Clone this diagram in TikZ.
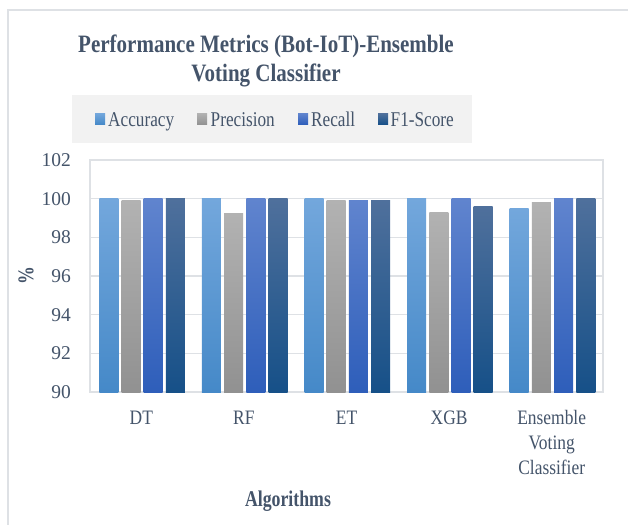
\documentclass[tikz,border=0pt]{standalone}
\usepackage{fontspec}
\setmainfont{Liberation Serif}
\newfontfamily\condfont{Liberation Serif}[FakeStretch=0.85]
\newfontfamily\legfont{Liberation Serif}[FakeStretch=0.82]
\newfontfamily\titlefont{Liberation Serif}[FakeStretch=0.84]
\newfontfamily\axisfont{Liberation Serif}[FakeStretch=0.79]

\definecolor{txt}{HTML}{44546A}
\definecolor{gridc}{HTML}{DEE1E5}
\definecolor{legbg}{HTML}{F2F2F2}
\definecolor{accT}{HTML}{73A7DC}
\definecolor{accB}{HTML}{4589C8}
\definecolor{preT}{HTML}{B2B2B2}
\definecolor{preB}{HTML}{919191}
\definecolor{recT}{HTML}{6084CE}
\definecolor{recB}{HTML}{2E5EBA}
\definecolor{fT}{HTML}{4F709C}
\definecolor{fB}{HTML}{165088}

\tikzset{
  titletext/.style={text=txt, inner sep=0pt, anchor=base,
    font=\titlefont\bfseries\fontsize{25}{29}\selectfont},
  legtext/.style={text=txt, inner sep=0pt, anchor=base west,
    font=\legfont\fontsize{21}{24}\selectfont},
  legkey/.style={inner sep=0pt, minimum width=10pt, minimum height=11pt},
  ticktext/.style={text=txt, inner sep=0pt, anchor=east,
    font=\fontsize{19.5}{22}\selectfont},
  cattext/.style={text=txt, inner sep=0pt, align=center,
    font=\condfont\fontsize{20.5}{25}\selectfont},
  axistitle/.style={text=txt, inner sep=0pt,
    font=\axisfont\bfseries\fontsize{22.5}{26}\selectfont},
}

\begin{document}
\begin{tikzpicture}[x=1pt,y=-1pt]
\useasboundingbox (0,0) rectangle (628,524);
\fill[white] (0,0) rectangle (628,524);

% chart frame (continues past the page on the right and bottom)
\draw[gridc, line width=1.2pt] (8,530) -- (8,10) -- (640,10);

% title
\node[titletext] (title1) at (266,53) {Performance Metrics (Bot-IoT)-Ensemble};
\node[titletext] (title2) at (266,82) {Voting Classifier};

% legend
\fill[legbg] (72,95) rectangle (472,143);
\node[legkey, top color=accT, bottom color=accB] (kacc) at (100,119) {};
\node[legtext] (lacc) at (108,126) {Accuracy};
\node[legkey, top color=preT, bottom color=preB] (kpre) at (202,119) {};
\node[legtext] (lpre) at (210.5,126) {Precision};
\node[legkey, top color=recT, bottom color=recB] (krec) at (303,119) {};
\node[legtext] (lrec) at (311,126) {Recall};
\node[legkey, top color=fT, bottom color=fB] (kf) at (383,119) {};
\node[legtext] (lf) at (390.5,126) {F1-Score};

% gridlines and tick labels
\foreach \v in {90,92,...,102} {
  \draw[gridc, line width=1.3pt] (90,{392-(\v-90)*19.333}) -- (603,{392-(\v-90)*19.333});
  \node[ticktext] (tick\v) at (71,{392-(\v-90)*19.333}) {\v};
}
\draw[gridc, line width=1.3pt] (90,160) rectangle (603,392);

% bars
\foreach \i/\a/\p/\r/\f in {0/100/99.88/100/100, 1/100/99.21/100/100,
    2/100/99.88/99.88/99.93, 3/100/99.31/100/99.57, 4/99.47/99.78/100/100} {
  \pgfmathsetmacro\cx{90+102.6*(\i+0.5)}
  \shade[top color=accT, bottom color=accB]
    (\cx-42,392) rectangle (\cx-23,{392-(\a-90)*19.333});
  \shade[top color=preT, bottom color=preB]
    (\cx-19.8,392) rectangle (\cx-0.8,{392-(\p-90)*19.333});
  \shade[top color=recT, bottom color=recB]
    (\cx+2.4,392) rectangle (\cx+21.4,{392-(\r-90)*19.333});
  \shade[top color=fT, bottom color=fB]
    (\cx+24.6,392) rectangle (\cx+43.6,{392-(\f-90)*19.333});
}

% category labels
\node[cattext, anchor=base] (cdt) at (141.3,424) {DT};
\node[cattext, anchor=base] (crf) at (243.9,424) {RF};
\node[cattext, anchor=base] (cet) at (346.5,424) {ET};
\node[cattext, anchor=base] (cxgb) at (449.1,424) {XGB};
\node[cattext, anchor=north] (cevc) at (551.7,410) {Ensemble\\Voting\\Classifier};

% axis titles
\node[axistitle, anchor=base] (xtitle) at (288,506) {Algorithms};
\node[axistitle, rotate=90] (ytitle) at (26,276) {\%};
\end{tikzpicture}
\end{document}
